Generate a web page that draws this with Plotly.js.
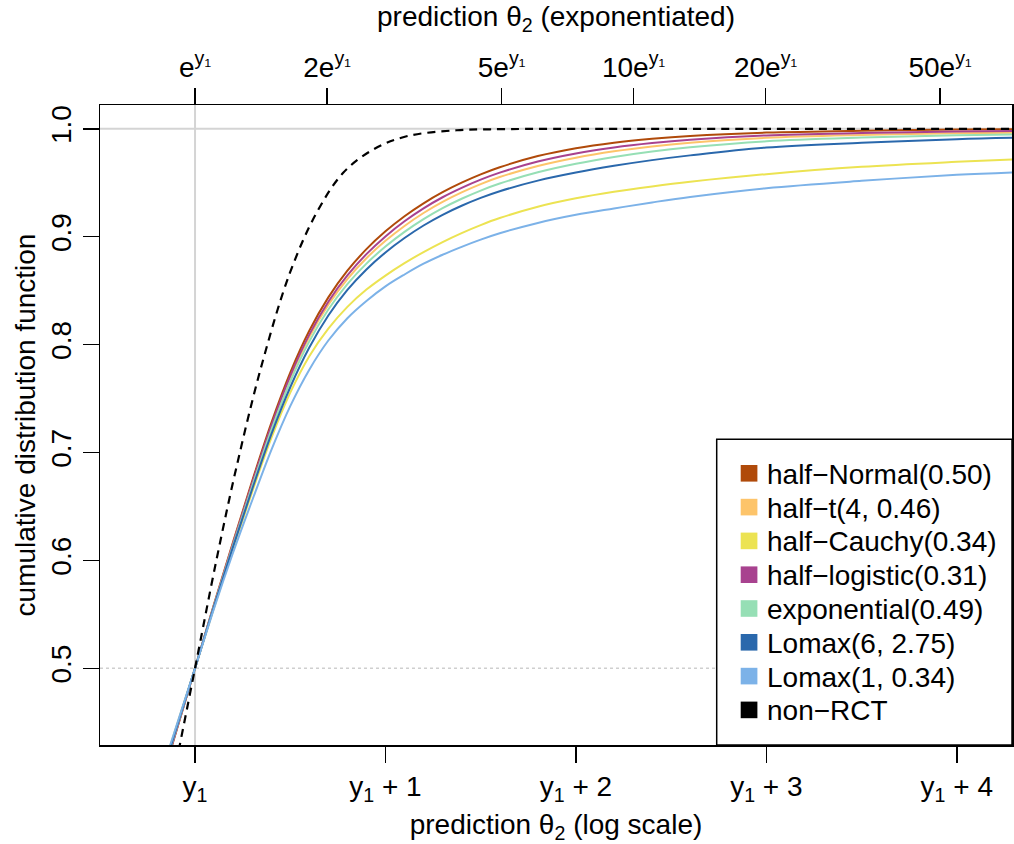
<!DOCTYPE html>
<html><head><meta charset="utf-8">
<script src="https://cdn.plot.ly/plotly-3.0.1.min.js"></script>
<style>body{margin:0;background:#fff}#chart{width:1014px;height:844px}</style>
</head><body><div id="chart"></div>
<script>
// ---- data (x = theta2 - y1 on log scale, y = CDF) ----
const seriesNames = ["half\u2212Normal(0.50)", "half\u2212t(4, 0.46)", "half\u2212Cauchy(0.34)",
  "half\u2212logistic(0.31)", "exponential(0.49)", "Lomax(6, 2.75)", "Lomax(1, 0.34)", "non\u2212RCT"];
const seriesColors = ["#b04a0a", "#fdc46a", "#ece352", "#a8428f", "#96dfb5", "#2a68ac", "#7cb2e8", "#000000"];

const xGrid = [-0.15, 0, 0.1, 0.2, 0.3, 0.4, 0.5, 0.6, 0.7, 0.8, 0.9, 1.0, 1.1, 1.2, 1.3, 1.4, 1.5, 1.6, 1.8, 2.0, 2.2, 2.4, 2.6, 3.0, 3.5, 4.0, 4.3];
const yHalfNormal   = [0.411, 0.5, 0.5595, 0.6173, 0.6735, 0.7270, 0.7740, 0.8128, 0.8438, 0.8685, 0.8885, 0.9050, 0.9190, 0.9310, 0.9413, 0.9501, 0.9578, 0.9644, 0.9748, 0.9821, 0.9872, 0.9908, 0.9934, 0.9965, 0.9983, 0.9994, 0.9997];
const yHalfT        = [0.413, 0.5, 0.5585, 0.6153, 0.6705, 0.7231, 0.7692, 0.8070, 0.8370, 0.8608, 0.8801, 0.8962, 0.9100, 0.9220, 0.9323, 0.9411, 0.9488, 0.9553, 0.9656, 0.9733, 0.9792, 0.9837, 0.9871, 0.9917, 0.9943, 0.9958, 0.9963];
const yHalfCauchy   = [0.417, 0.5, 0.5565, 0.6113, 0.6635, 0.7130, 0.7555, 0.7893, 0.8148, 0.8350, 0.8510, 0.8640, 0.8755, 0.8858, 0.8951, 0.9034, 0.9108, 0.9173, 0.9278, 0.9356, 0.9417, 0.9466, 0.9509, 0.9580, 0.9648, 0.9694, 0.9717];
const yHalfLogistic = [0.412, 0.5, 0.5587, 0.6158, 0.6715, 0.7245, 0.7710, 0.8093, 0.8398, 0.8641, 0.8839, 0.9003, 0.9143, 0.9263, 0.9366, 0.9453, 0.9529, 0.9594, 0.9697, 0.9772, 0.9827, 0.9868, 0.9899, 0.9939, 0.9961, 0.9975, 0.9979];
const yExponential  = [0.414, 0.5, 0.5580, 0.6143, 0.6687, 0.7205, 0.7658, 0.8030, 0.8326, 0.8561, 0.8751, 0.8909, 0.9045, 0.9163, 0.9265, 0.9352, 0.9428, 0.9493, 0.9597, 0.9676, 0.9739, 0.9790, 0.9829, 0.9885, 0.9919, 0.9941, 0.9949];
const yLomax6       = [0.415, 0.5, 0.5575, 0.6128, 0.6660, 0.7165, 0.7605, 0.7973, 0.8270, 0.8507, 0.8697, 0.8854, 0.8988, 0.9104, 0.9203, 0.9287, 0.9360, 0.9422, 0.9520, 0.9595, 0.9657, 0.9710, 0.9754, 0.9827, 0.9871, 0.9904, 0.9917];
const yLomax1       = [0.418, 0.5, 0.5555, 0.6073, 0.6555, 0.7020, 0.7430, 0.7768, 0.8038, 0.8245, 0.8405, 0.8540, 0.8650, 0.8750, 0.8833, 0.8906, 0.8973, 0.9032, 0.9128, 0.9203, 0.9262, 0.9318, 0.9369, 0.9450, 0.9518, 0.9574, 0.9597];

const xNonRCT = [-0.1, -0.08, 0, 0.112, 0.217, 0.349, 0.498, 0.638, 0.778, 0.935, 1.111, 1.374, 1.549, 2.0, 3.0, 4.3];
const yNonRCT = [0.411, 0.4289, 0.5, 0.600, 0.686, 0.7804, 0.8664, 0.9221, 0.9592, 0.9808, 0.9931, 0.9987, 0.9996, 1.0, 1.0, 1.0];

const bottomTickVals = [0, 1, 2, 3, 4];
const bottomTickText = ["y<sub>1</sub>", "y<sub>1</sub> + 1", "y<sub>1</sub> + 2", "y<sub>1</sub> + 3", "y<sub>1</sub> + 4"];
const topMultipliers = [1, 2, 5, 10, 20, 50];
const topTickText = ["e<sup>y\u2081</sup>", "2e<sup>y\u2081</sup>", "5e<sup>y\u2081</sup>", "10e<sup>y\u2081</sup>", "20e<sup>y\u2081</sup>", "50e<sup>y\u2081</sup>"];
const yTickVals = [0.5, 0.6, 0.7, 0.8, 0.9, 1.0];

const xRange = [-0.499, 4.29];
const yRange = [0.4289, 1.0221];

// ---- traces ----
const seriesX = [xGrid, xGrid, xGrid, xGrid, xGrid, xGrid, xGrid, xNonRCT];
const seriesY = [yHalfNormal, yHalfT, yHalfCauchy, yHalfLogistic, yExponential, yLomax6, yLomax1, yNonRCT];

const traces = [];
seriesNames.forEach((name, i) => {
  traces.push({
    x: seriesX[i], y: seriesY[i], type: "scatter", mode: "lines", name: name,
    line: {color: seriesColors[i], width: i === 7 ? 2.2 : 2, shape: "spline", smoothing: 1,
           dash: i === 7 ? "8px,6px" : "solid"},
    showlegend: false, hoverinfo: "skip"
  });
});
// helper trace so that the top axis exists
traces.push({x: [null], y: [null], xaxis: "x2", yaxis: "y", type: "scatter", mode: "markers", showlegend: false});

const font = {family: "Liberation Sans, Arial, sans-serif", size: 28, color: "#000"};

// ---- legend drawn as a boxed key with filled squares (as in the reference) ----
const plotL = 100, plotR = 1012, plotT = 105, plotB = 745;
const px2paperX = p => (p - plotL) / (plotR - plotL);
const px2paperY = p => (plotB - p) / (plotB - plotT);
const legendShapes = [{
  type: "rect", xref: "paper", yref: "paper",
  x0: px2paperX(716.7), x1: 1, y0: 0, y1: px2paperY(439.3),
  fillcolor: "#fff", line: {color: "#000", width: 1.5}, layer: "above"
}];
const legendAnnotations = [];
seriesNames.forEach((name, i) => {
  const cy = 473.3 + 33.8 * i;
  legendShapes.push({
    type: "rect", xref: "paper", yref: "paper",
    x0: px2paperX(740.7), x1: px2paperX(757.4), y0: px2paperY(cy + 8.3), y1: px2paperY(cy - 8.3),
    fillcolor: seriesColors[i], line: {width: 0}, layer: "above"
  });
  legendAnnotations.push({
    xref: "paper", yref: "paper", x: px2paperX(765), y: px2paperY(cy + 1),
    xanchor: "left", yanchor: "middle", showarrow: false, text: name, font: font
  });
});

const layout = {
  width: 1014, height: 844,
  margin: {l: 100, r: 2, t: 105, b: 99, pad: 0},
  paper_bgcolor: "#fff", plot_bgcolor: "#fff",
  font: font,
  showlegend: false,
  xaxis: {
    range: xRange, tickvals: bottomTickVals, ticktext: bottomTickText,
    ticks: "outside", ticklen: 16, tickwidth: 1.5, tickcolor: "#000",
    showline: true, linecolor: "#000", linewidth: 1.5, mirror: true,
    showgrid: false, zeroline: false, tickfont: font,
    title: {text: "prediction \u03b8<sub>2</sub> (log scale)", font: font, standoff: 12}
  },
  xaxis2: {
    type: "log", overlaying: "x", side: "top", anchor: "y",
    range: [xRange[0] / Math.LN10, xRange[1] / Math.LN10],
    tickvals: topMultipliers, ticktext: topTickText,
    ticks: "outside", ticklen: 16, tickwidth: 1.5, tickcolor: "#000",
    showline: false, showgrid: false, zeroline: false, tickfont: font,
    title: {text: "prediction \u03b8<sub>2</sub> (exponentiated)", font: font, standoff: 12}
  },
  yaxis: {
    range: yRange, tickvals: yTickVals, tickformat: ".1f", tickangle: -90,
    ticks: "outside", ticklen: 16, tickwidth: 1.5, tickcolor: "#000",
    showline: true, linecolor: "#000", linewidth: 1.5, mirror: true,
    showgrid: false, zeroline: false, tickfont: font,
    title: {text: "cumulative distribution function", font: font, standoff: 2}
  },
  shapes: [
    {type: "line", xref: "paper", yref: "y", x0: 0, x1: 1, y0: 1, y1: 1, layer: "below",
     line: {color: "#d4d4d4", width: 2}},
    {type: "line", xref: "x", yref: "paper", x0: 0, x1: 0, y0: 0, y1: 1, layer: "below",
     line: {color: "#d4d4d4", width: 2}},
    {type: "line", xref: "paper", yref: "y", x0: 0, x1: 1, y0: 0.5, y1: 0.5, layer: "below",
     line: {color: "#cfcfcf", width: 1.5, dash: "dot"}}
  ].concat(legendShapes),
  annotations: legendAnnotations
};

Plotly.newPlot("chart", traces, layout, {displayModeBar: false, staticPlot: true});
</script>
</body></html>
